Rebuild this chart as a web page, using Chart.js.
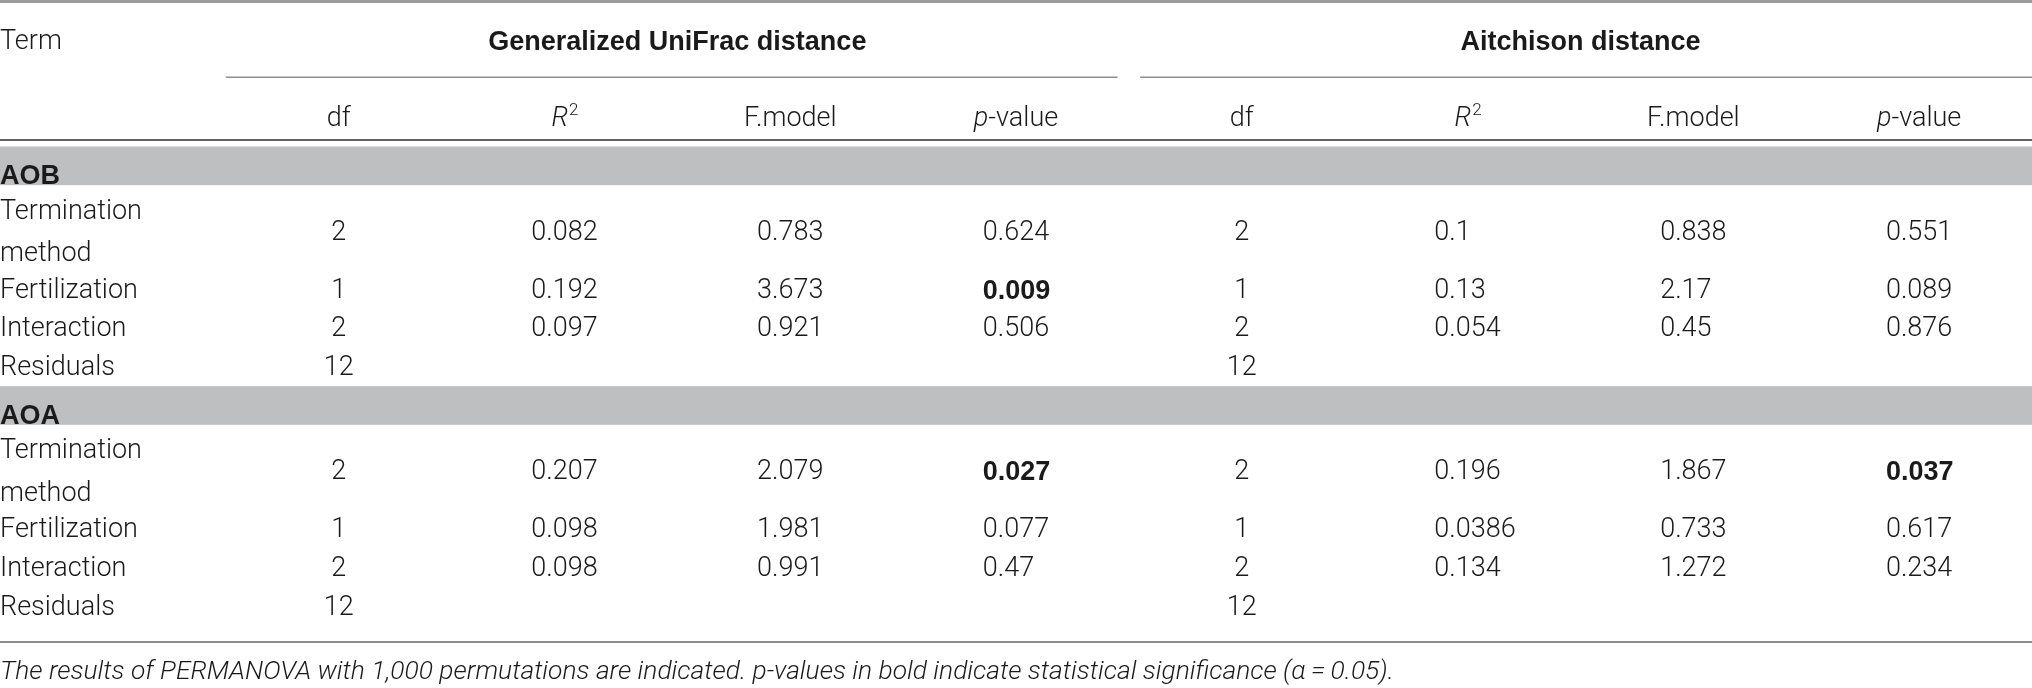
<!DOCTYPE html>
<html>
<head>
<meta charset="utf-8">
<script src="https://cdn.jsdelivr.net/npm/chart.js@4.4.1/dist/chart.umd.min.js"></script>
<style>
  html, body { margin: 0; padding: 0; background: #fff; }
  #wrap { width: 2032px; height: 688px; position: relative; }
</style>
</head>
<body>
<div id="wrap"><canvas id="permanova"></canvas></div>
<script>
// table content
const groupNames   = ['Generalized UniFrac distance', 'Aitchison distance'];
const statNames    = ['df', 'R2', 'F.model', 'p-value'];
const sectionNames = ['AOB', 'AOA'];
const termNames    = ['Termination method', 'Fertilization', 'Interaction', 'Residuals'];
const dfValues     = [2, 1, 2, 12];

// AOB
const aobUnifracR2 = [0.082, 0.192, 0.097, null];
const aobUnifracF  = [0.783, 3.673, 0.921, null];
const aobUnifracP  = [0.624, 0.009, 0.506, null];
const aobAitR2     = [0.1, 0.13, 0.054, null];
const aobAitF      = [0.838, 2.17, 0.45, null];
const aobAitP      = [0.551, 0.089, 0.876, null];

// AOA
const aoaUnifracR2 = [0.207, 0.098, 0.098, null];
const aoaUnifracF  = [2.079, 1.981, 0.991, null];
const aoaUnifracP  = [0.027, 0.077, 0.47, null];
const aoaAitR2     = [0.196, 0.0386, 0.134, null];
const aoaAitF      = [1.867, 0.733, 1.272, null];
const aoaAitP      = [0.037, 0.617, 0.234, null];

const alpha = 0.05;
const footnote = 'The results of PERMANOVA with 1,000 permutations are indicated. p-values in bold indicate statistical significance (\u03b1\u2009=\u20090.05).';

const sectionStats = [
    [[aobUnifracR2, aobUnifracF, aobUnifracP], [aobAitR2, aobAitF, aobAitP]],
    [[aoaUnifracR2, aoaUnifracF, aoaUnifracP], [aoaAitR2, aoaAitF, aoaAitP]]
];

// fonts
const FAM = 'Roboto, "Liberation Sans", sans-serif';
const F_REG  = '300 27px ' + FAM;
const F_BOLD = '700 27px "Liberation Sans", Arial, sans-serif';
const F_ITAL = 'italic 300 27px ' + FAM;
const F_SUP  = '300 17px ' + FAM;
const INK = '#1a1a1a';
const FOOT_WIDTH = 1395; // footnote runs to about here in the original

// layout in row units (y scale) and column units (x scale)
const Y_MAX = 17.8;
const NCOLS = 9;
const L = { topRule: 0.04, groupHead: 1.1, groupRule: 2.0, colHead: 3.08, headRule: 3.62 };

const measureCtx = document.createElement('canvas').getContext('2d');
function wrap(text, font, maxW) {
    measureCtx.font = font;
    const words = text.split(' ');
    const lines = [];
    let cur = '';
    words.forEach(w => {
        const t = cur ? cur + ' ' + w : w;
        if (cur && measureCtx.measureText(t).width > maxW) {
            lines.push(cur);
            cur = w;
        } else {
            cur = t;
        }
    });
    if (cur) lines.push(cur);
    return lines;
}

// footnote size so that the line is as long as in the original
measureCtx.font = 'italic 300 26px ' + FAM;
const footSize = (26 * FOOT_WIDTH / measureCtx.measureText(footnote).width).toFixed(1);
const F_FOOT = 'italic 300 ' + footSize + 'px ' + FAM;

const colWidthPx = 2032 / NCOLS;
const bands = [];
const cells = [];

// header cells
cells.push({ x: -0.5, y: L.groupHead, text: 'Term', kind: 'termHead' });
groupNames.forEach((g, gi) => {
    cells.push({ x: 2.5 + gi * 4, y: L.groupHead, text: g, kind: 'group' });
    statNames.forEach((s, si) => {
        cells.push({ x: 1 + gi * 4 + si, y: L.colHead, text: s, kind: 'colHead' });
    });
});

// body
let cursor = L.headRule + 0.17;
sectionNames.forEach((sec, k) => {
    bands.push([cursor, cursor + 1]);
    cells.push({ x: -0.5, y: cursor + 1, text: sec, kind: 'section' });
    cursor += 1.24;
    termNames.forEach((term, r) => {
        const lines = wrap(term, F_REG, colWidthPx * 0.75);
        const h = Math.max(1, lines.length);
        const cy = cursor + h / 2;
        cells.push({ x: -0.5, y: cy, lines: lines, kind: 'term' });
        [0, 1].forEach(gi => {
            cells.push({ x: 1 + gi * 4, y: cy, text: String(dfValues[r]), kind: 'df' });
            sectionStats[k][gi].forEach((arr, si) => {
                const v = arr[r];
                if (v === null) return;
                const bold = si === 2 && v < alpha;
                cells.push({ x: 2 + gi * 4 + si, y: cy, text: String(v), kind: bold ? 'valBold' : 'val' });
            });
        });
        cursor += h;
    });
    cursor -= 0.04;
});
const bottomRule = cursor + 0.42;
cells.push({ x: -0.5, y: bottomRule + 0.78, text: footnote, kind: 'foot' });

// draw rules and shaded bands behind the text
const rulesPlugin = {
    id: 'rules',
    beforeDatasetsDraw(chart) {
        const { ctx, scales: { x, y } } = chart;
        const left = x.getPixelForValue(-0.5), right = x.getPixelForValue(8.5);
        ctx.save();
        ctx.fillStyle = '#bdbfc1';
        bands.forEach(b => {
            const t = y.getPixelForValue(b[0]), btm = y.getPixelForValue(b[1]);
            ctx.fillRect(left, t, right - left, btm - t);
        });
        const hline = (x0, x1, yv, color, w) => {
            ctx.strokeStyle = color;
            ctx.lineWidth = w;
            ctx.beginPath();
            ctx.moveTo(x.getPixelForValue(x0), y.getPixelForValue(yv));
            ctx.lineTo(x.getPixelForValue(x1), y.getPixelForValue(yv));
            ctx.stroke();
        };
        hline(-0.5, 8.5, L.topRule, '#9a9a9a', 3);
        hline(0.5, 4.45, L.groupRule, '#8e8e8e', 1.5);
        hline(4.55, 8.5, L.groupRule, '#8e8e8e', 1.5);
        hline(-0.5, 8.5, L.headRule, '#2e2e2e', 1.5);
        hline(-0.5, 8.5, bottomRule, '#8c8c8c', 2);
        ctx.restore();
    }
};

// draw each cell's text at the point the scales give it
const textPlugin = {
    id: 'cellText',
    afterDatasetsDraw(chart) {
        const ctx = chart.ctx;
        const meta = chart.getDatasetMeta(0);
        ctx.save();
        ctx.fillStyle = INK;
        ctx.font = F_REG;
        const halfNum = ctx.measureText('0.000').width / 2;
        meta.data.forEach((pt, i) => {
            const c = chart.data.datasets[0].data[i];
            const px = pt.x, py = pt.y;
            ctx.textBaseline = 'middle';
            if (c.kind === 'termHead' || c.kind === 'foot') {
                ctx.font = c.kind === 'foot' ? F_FOOT : F_REG;
                ctx.textAlign = 'left';
                ctx.fillText(c.text, px, py);
            } else if (c.kind === 'group') {
                ctx.font = F_BOLD;
                ctx.textAlign = 'center';
                ctx.fillText(c.text, px, py);
            } else if (c.kind === 'section') {
                ctx.font = F_BOLD;
                ctx.textAlign = 'left';
                ctx.textBaseline = 'alphabetic';
                ctx.fillText(c.text, px, py - 1);
            } else if (c.kind === 'term') {
                ctx.font = F_REG;
                ctx.textAlign = 'left';
                const lh = chart.scales.y.getPixelForValue(1.1) - chart.scales.y.getPixelForValue(0);
                const y0 = py - lh * (c.lines.length - 1) / 2;
                c.lines.forEach((ln, j) => ctx.fillText(ln, px, y0 + j * lh));
            } else if (c.kind === 'df') {
                ctx.font = F_REG;
                ctx.textAlign = 'center';
                ctx.fillText(c.text, px, py);
            } else if (c.kind === 'val' || c.kind === 'valBold') {
                ctx.font = c.kind === 'valBold' ? F_BOLD : F_REG;
                ctx.textAlign = 'left';
                ctx.fillText(c.text, px - halfNum, py);
            } else if (c.kind === 'colHead') {
                ctx.textAlign = 'left';
                if (c.text === 'R2') {
                    ctx.font = F_ITAL;
                    const wR = ctx.measureText('R').width;
                    ctx.font = F_SUP;
                    const w2 = ctx.measureText('2').width;
                    const x0 = px - (wR + w2) / 2;
                    ctx.font = F_ITAL;
                    ctx.fillText('R', x0, py);
                    ctx.font = F_SUP;
                    ctx.fillText('2', x0 + wR + 1, py - 8);
                } else if (c.text === 'p-value') {
                    ctx.font = F_ITAL;
                    const wp = ctx.measureText('p').width;
                    ctx.font = F_REG;
                    const wv = ctx.measureText('-value').width;
                    const x0 = px - (wp + wv) / 2;
                    ctx.font = F_ITAL;
                    ctx.fillText('p', x0, py);
                    ctx.font = F_REG;
                    ctx.fillText('-value', x0 + wp, py);
                } else {
                    ctx.font = F_REG;
                    ctx.textAlign = 'center';
                    ctx.fillText(c.text, px, py);
                }
            }
        });
        ctx.restore();
    }
};

new Chart(document.getElementById('permanova'), {
    type: 'scatter',
    data: {
        datasets: [{
            data: cells,
            pointRadius: 0,
            pointHoverRadius: 0,
            clip: false
        }]
    },
    options: {
        responsive: true,
        maintainAspectRatio: false,
        animation: false,
        layout: { padding: 0 },
        plugins: { legend: { display: false }, tooltip: { enabled: false } },
        events: [],
        scales: {
            x: { type: 'linear', min: -0.5, max: NCOLS - 0.5, display: false },
            y: { type: 'linear', min: 0, max: Y_MAX, reverse: true, display: false }
        }
    },
    plugins: [rulesPlugin, textPlugin]
});
</script>
</body>
</html>
